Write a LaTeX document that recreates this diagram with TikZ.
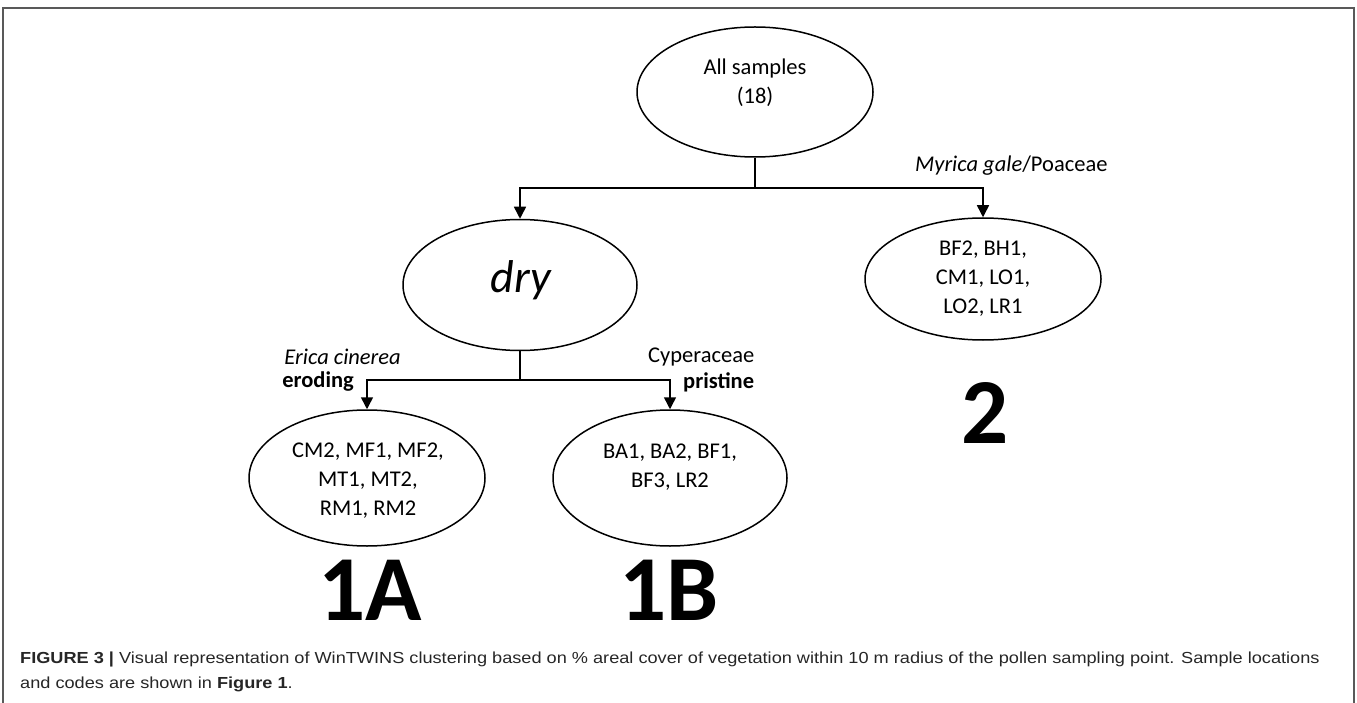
\documentclass[tikz,border=0pt]{standalone}
\usepackage{fontspec}
\setmainfont{Carlito}
\newfontfamily\capfont{Liberation Sans}
\usetikzlibrary{shapes.geometric,arrows.meta}
\begin{document}
\begin{tikzpicture}[x=1pt,y=-1pt,
  oval/.style={draw, ellipse, line width=1.5pt, inner sep=0pt},
  conn/.style={line width=1.5pt},
  arr/.style={conn,-{Triangle[width=12pt,length=12pt]}},
  txt/.style={font=\fontsize{22.5}{29}\selectfont, align=center, inner sep=0pt},
  lbl/.style={font=\fontsize{22.5}{29}\selectfont, inner sep=0pt},
  big/.style={font=\fontsize{93}{93}\selectfont\bfseries, inner sep=0pt}]
\useasboundingbox (0,0) rectangle (1357,703);
\draw[line width=2pt, color=gray!70!black] (3,703) -- (3,8) -- (1354,8) -- (1354,703);

% ellipses
\node[oval, minimum width=236pt, minimum height=130pt] (all) at (755,92) {};
\node[txt] (alltxt) at (755,83) {All samples\\(18)};

\node[oval, minimum width=234pt, minimum height=131pt] (dry) at (520,285) {};
\node[inner sep=0pt, font=\fontsize{46}{46}\selectfont\itshape] (drytxt) at (521,280) {dry};

\node[oval, minimum width=236pt, minimum height=122pt] (two) at (983,279) {};
\node[txt] (twotxt) at (983,279) {BF2, BH1,\\CM1, LO1,\\LO2, LR1};

\node[oval, minimum width=236pt, minimum height=136pt] (oneA) at (367,478) {};
\node[txt] (oneAtxt) at (368,481) {CM2, MF1, MF2,\\MT1, MT2,\\RM1, RM2};

\node[oval, minimum width=234pt, minimum height=136pt] (oneB) at (670,478) {};
\node[txt] (oneBtxt) at (670,467) {BA1, BA2, BF1,\\BF3, LR2};

% big labels
\node[big] (lA) at (370,590) {1A};
\node[big] (lB) at (669,590) {1B};
\node[big] (l2) at (985,413) {2};

% connectors
\coordinate (j1) at (755,188);
\draw[conn] (all.south) -- (j1);
\draw[arr] (j1) -| (dry.north);
\draw[arr] (j1) -| (two.north);

\coordinate (j2) at (520,380);
\draw[conn] (dry.south) -- (j2);
\draw[arr] (j2) -| (oneA.north);
\draw[arr] (j2) -| (oneB.north);

% branch labels
\node[lbl, anchor=west] (myr) at (915,166) {\itshape Myrica gale\upshape/Poaceae};
\node[lbl, anchor=east] (eri) at (401,357) {\itshape Erica cinerea};
\node[lbl, anchor=east] (ero) at (354,382) {\bfseries eroding};
\node[lbl, anchor=west] (cyp) at (648,357) {Cyperaceae};
\node[lbl, anchor=west] (pri) at (683,382) {\bfseries pristine};

% caption
\node[anchor=north west, inner sep=0pt, align=left, text=black!85,
      font=\capfont\fontsize{16}{24.5}\selectfont] (cap) at (20,652)
  {\scalebox{1.135}[1]{\textbf{FIGURE 3 |} Visual representation of WinTWINS clustering based on \% areal cover of vegetation within 10 m radius of the pollen sampling point. Sample locations}\\
   \scalebox{1.135}[1]{and codes are shown in \textbf{Figure 1}.}};
\end{tikzpicture}
\end{document}
